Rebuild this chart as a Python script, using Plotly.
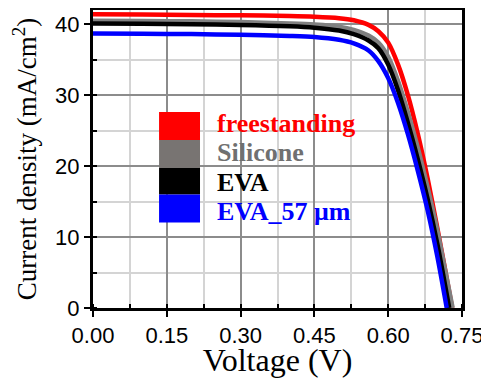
import plotly.graph_objects as go

# ---- data ----
series_names = ["freestanding", "Silicone", "EVA", "EVA_57 μm"]

v_free = [0, 0.1, 0.2, 0.3, 0.4, 0.45, 0.5, 0.53, 0.56, 0.58, 0.60, 0.62, 0.64, 0.66, 0.68, 0.70, 0.715, 0.73]
j_free = [41.4, 41.35, 41.3, 41.25, 41.15, 41.05, 40.85, 40.55, 39.9, 39.0, 37.4, 34.3, 30.0, 24.6, 18.3, 11.2, 5.7, 0]

v_sil = [0, 0.1, 0.2, 0.3, 0.4, 0.45, 0.5, 0.53, 0.56, 0.58, 0.60, 0.62, 0.64, 0.66, 0.68, 0.70, 0.715, 0.731]
j_sil = [40.5, 40.45, 40.4, 40.3, 40.1, 39.95, 39.65, 39.2, 38.4, 37.4, 35.4, 32.0, 27.6, 22.6, 17.0, 10.9, 5.6, 0]

v_eva = [0, 0.1, 0.2, 0.3, 0.4, 0.45, 0.5, 0.53, 0.56, 0.58, 0.60, 0.62, 0.64, 0.66, 0.68, 0.70, 0.712, 0.724]
j_eva = [40.1, 40.05, 40.0, 39.9, 39.7, 39.5, 39.1, 38.6, 37.7, 36.6, 34.3, 30.7, 26.1, 21.0, 15.4, 9.0, 4.6, 0]

v_eva57 = [0, 0.1, 0.2, 0.3, 0.4, 0.45, 0.5, 0.53, 0.56, 0.58, 0.60, 0.62, 0.64, 0.66, 0.68, 0.70, 0.719]
j_eva57 = [38.7, 38.65, 38.6, 38.5, 38.35, 38.2, 37.8, 37.3, 36.3, 34.8, 32.4, 28.9, 24.5, 19.4, 13.8, 7.2, 0]

x_ticks = [0.00, 0.15, 0.30, 0.45, 0.60, 0.75]
x_tick_labels = ["0.00", "0.15", "0.30", "0.45", "0.60", "0.75"]
y_ticks = [0, 10, 20, 30, 40]

line_colors = ["#ff0000", "#808080", "#000000", "#0000ff"]
block_colors = ["#ff0000", "#787472", "#000000", "#0000ff"]
text_colors = ["#ff0000", "#707070", "#000000", "#0000ff"]

fig = go.Figure()
for name, v, j, c in zip(series_names,
                         [v_free, v_sil, v_eva, v_eva57],
                         [j_free, j_sil, j_eva, j_eva57],
                         line_colors):
    fig.add_trace(go.Scatter(x=v, y=j, mode="lines", name=name,
                             line=dict(color=c, width=4.5, shape="spline", smoothing=0.8),
                             showlegend=False))

# manual legend: colored blocks + bold labels
bx0, bx1 = 0.179, 0.290
block_edges = [0.658, 0.564, 0.470, 0.381, 0.287]
text_y = [0.618, 0.521, 0.421, 0.323]
for i, name in enumerate(series_names):
    fig.add_shape(type="rect", xref="paper", yref="paper",
                  x0=bx0, x1=bx1, y0=block_edges[i + 1], y1=block_edges[i],
                  fillcolor=block_colors[i], line=dict(width=0))
    fig.add_annotation(xref="paper", yref="paper", x=0.331, y=text_y[i],
                       xanchor="left", yanchor="middle", showarrow=False,
                       text="<b>" + name + "</b>",
                       font=dict(family="Liberation Serif", size=26, color=text_colors[i]))

axis_common = dict(
    showline=True, linecolor="black", linewidth=3, mirror=True,
    ticks="outside", ticklen=6, tickwidth=2, tickcolor="black",
    showgrid=True, gridcolor="#8c8c8c", gridwidth=1.5,
    zeroline=False, automargin=False,
    tickfont=dict(family="Liberation Sans", size=22, color="black"),
)

fig.update_xaxes(
    range=[0, 0.75], tickvals=x_ticks, ticktext=x_tick_labels,
    minor=dict(dtick=0.075, showgrid=True, gridcolor="#d4d4d4", gridwidth=1.5,
               ticks="inside", ticklen=4, tickwidth=2, tickcolor="black"),
    title=dict(text="Voltage (V)", font=dict(family="Liberation Serif", size=32, color="black")),
    **axis_common)
fig.update_yaxes(
    range=[0, 42], tickvals=y_ticks,
    minor=dict(dtick=5, showgrid=True, gridcolor="#d4d4d4", gridwidth=1.5,
               ticks="inside", ticklen=4, tickwidth=2, tickcolor="black"),
    title=dict(text="Current density (mA/cm<sup>2</sup>)",
               font=dict(family="Liberation Serif", size=27, color="black")),
    **axis_common)

# page body has an 8px margin; size the figure so the plot lands where the reference has it
fig.update_layout(
    width=481, height=370,
    margin=dict(l=85, r=27, t=2, b=70),
    plot_bgcolor="white", paper_bgcolor="white",
)

fig.write_html("out.html")
